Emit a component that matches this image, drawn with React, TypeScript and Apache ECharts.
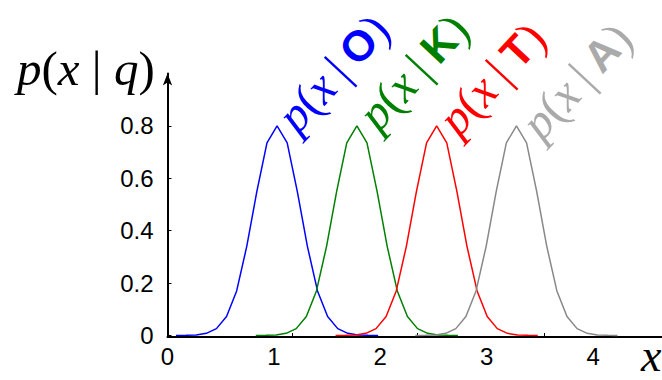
import React, { useEffect, useRef } from "react";
import * as echarts from "echarts";

// Curve centres (x) for the four densities
const centers = [1.03, 1.78, 2.53, 3.28];
const curveNames = ["O", "K", "T", "A"];
const lineColors = ["#0000ff", "#008000", "#ff0000", "#888888"];
const labelColors = ["#0000ff", "#008000", "#ff0000", "#aaaaaa"];
// Sample offsets from each centre and the density read at them
const offsets = [
  -0.95, -0.855, -0.76, -0.665, -0.57, -0.475, -0.38, -0.285, -0.19, -0.095, 0,
  0.095, 0.19, 0.285, 0.38, 0.475, 0.57, 0.665, 0.76, 0.855, 0.95,
];
const density = [
  0.0001, 0.0005, 0.002, 0.008, 0.026, 0.072, 0.17, 0.34, 0.55, 0.735, 0.8,
  0.735, 0.55, 0.34, 0.17, 0.072, 0.026, 0.008, 0.002, 0.0005, 0.0001,
];
const xLabels = [0, 1, 2, 3, 4];
const xTicks = [1.177, 2.35, 3.54];
const yLabels = [0, 0.2, 0.4, 0.6, 0.8];
// label anchor points (pixel positions of the rotated annotation texts)
const labelAnchors = [
  [303, 140],
  [384, 138],
  [464, 143],
  [547, 147],
];

export default function App() {
  const ref = useRef<HTMLDivElement>(null);
  useEffect(() => {
    const chart = echarts.init(ref.current!, null, { renderer: "svg" });
    const serif = "'Liberation Serif', 'DejaVu Serif', serif";
    const sans = "'Liberation Sans', Arial, sans-serif";
    const richFor = (color: string, size: number, bsize: number) => ({
      i: { fontFamily: serif, fontStyle: "italic", fontSize: size, fill: color, color },
      n: { fontFamily: serif, fontSize: size, fill: color, color },
      b: { fontFamily: sans, fontWeight: "bold", fontSize: bsize, fill: color, color },
    });
    const series = centers.map((c, si) => ({
      type: "line",
      name: curveNames[si],
      data: offsets.map((o, i) => [c + o, density[i]]),
      symbol: "none",
      lineStyle: { color: lineColors[si], width: 1.5 },
      clip: false,
      z: 3,
    }));
    const graphics: any[] = [
      {
        type: "text",
        left: 17,
        top: 44,
        style: {
          text: "{i|p}{n|(}{i|x}{n| | }{i|q}{n|)}",
          rich: richFor("#000", 49, 49),
        },
      },
      {
        type: "text",
        x: 641,
        y: 378,
        style: {
          text: "x",
          font: `italic 46px ${serif}`,
          fill: "#000",
          verticalAlign: "bottom",
        },
      },
    ];
    curveNames.forEach((n, i) => {
      graphics.push({
        type: "text",
        x: labelAnchors[i][0],
        y: labelAnchors[i][1],
        rotation: (47 * Math.PI) / 180,
        style: {
          text: `{i|p}{n|(}{i|x}{n|\u2009|\u2009}{b|${n}}{n|)}`,
          rich: richFor(labelColors[i], 48, 43),
          align: "left",
          verticalAlign: "bottom",
        },
        z: 10,
      });
    });
    chart.setOption({
      animation: false,
      grid: { left: 167.5, right: 0, top: 73.5, bottom: 43, containLabel: false },
      xAxis: {
        type: "value",
        min: 0,
        max: 4.648,
        axisLine: { show: true, onZero: false, lineStyle: { color: "#000", width: 2 } },
        axisTick: { show: true, inside: true, length: 4, customValues: xTicks, lineStyle: { color: "#000" } },
        axisLabel: {
          customValues: xLabels,
          color: "#000",
          fontSize: 24,
          fontFamily: sans,
          margin: 7,
        },
        splitLine: { show: false },
      },
      yAxis: {
        type: "value",
        min: -0.006,
        max: 1,
        axisLine: {
          show: true,
          onZero: false,
          symbol: ["none", "arrow"],
          symbolSize: [7, 12],
          lineStyle: { color: "#000", width: 2 },
        },
        axisTick: { show: true, inside: true, length: 4, customValues: yLabels, lineStyle: { color: "#000" } },
        axisLabel: {
          customValues: yLabels,
          color: "#000",
          fontSize: 24,
          fontFamily: sans,
          margin: 14,
          formatter: (v: number) => (v === 0 ? "0" : v.toFixed(1)),
        },
        splitLine: { show: false },
      },
      series,
      graphic: graphics,
    });
    return () => chart.dispose();
  }, []);
  return (
    <div
      ref={ref}
      style={{ position: "fixed", left: 0, top: 0, width: 662, height: 380, background: "#fff" }}
    />
  );
}
